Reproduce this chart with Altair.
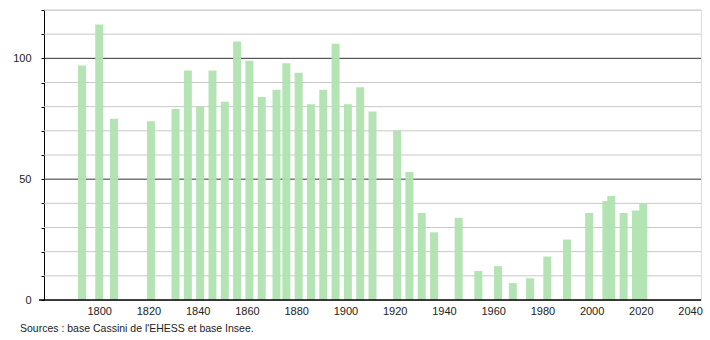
import altair as alt
import pandas as pd

years = [1793, 1800, 1806, 1821, 1831, 1836, 1841, 1846, 1851, 1856, 1861, 1866,
         1872, 1876, 1881, 1886, 1891, 1896, 1901, 1906, 1911, 1921, 1926, 1931,
         1936, 1946, 1954, 1962, 1968, 1975, 1982, 1990, 1999, 2006, 2008, 2013,
         2018, 2021]
population = [97, 114, 75, 74, 79, 95, 80, 95, 82, 107, 99, 84,
              87, 98, 94, 81, 87, 106, 81, 88, 78, 70, 53, 36,
              28, 34, 12, 14, 7, 9, 18, 25, 36, 41, 43, 36,
              37, 40]
x_labels = [1800, 1820, 1840, 1860, 1880, 1900, 1920, 1940, 1960, 1980, 2000, 2020, 2040]
y_ticks = [0, 10, 20, 30, 40, 50, 60, 70, 80, 90, 100, 110, 120]
light_grid = [10, 20, 30, 40, 60, 70, 80, 90, 110, 120]
dark_grid = [50, 100]
source_text = "Sources : base Cassini de l'EHESS et base Insee."

df = pd.DataFrame({"year": years, "pop": population})
FONT = "Liberation Sans"

xscale = alt.Scale(domain=[1779.6, 2042.4], nice=False, zero=False)
yscale = alt.Scale(domain=[0, 120], nice=False)

yaxis = alt.Axis(values=y_ticks, grid=False, tickSize=3, tickColor="#000",
                 domainColor="#000", labelFont=FONT, labelFontSize=11,
                 labelColor="#222", labelPadding=10, title=None,
                 labelExpr="datum.value % 50 === 0 ? datum.label : ''")

light = alt.Chart(pd.DataFrame({"v": light_grid})).mark_rule(
    color="#c8c8c8", strokeWidth=1
).encode(y=alt.Y("v:Q", scale=yscale, axis=yaxis, title=None))

dark = alt.Chart(pd.DataFrame({"v": dark_grid})).mark_rule(
    color="#333333", strokeWidth=1
).encode(y=alt.Y("v:Q", scale=yscale, axis=yaxis, title=None))

bars = alt.Chart(df).mark_bar(size=8, color="#b0e3b0", opacity=0.95).encode(
    x=alt.X("year:Q", scale=xscale, title=None,
            axis=alt.Axis(values=x_labels, ticks=False, domain=False, grid=False,
                          labelFont=FONT, labelFontSize=11, labelColor="#222",
                          labelPadding=5, format="d")),
    y=alt.Y("pop:Q", scale=yscale, axis=yaxis, title=None),
)

baseline = alt.Chart(pd.DataFrame({"v": [0]})).mark_rule(
    color="#000", strokeWidth=1.5
).encode(y=alt.Y("v:Q", scale=yscale, axis=yaxis, title=None),
         x=alt.value(-5), x2=alt.value(657))

source = alt.Chart(pd.DataFrame({"t": [source_text]})).mark_text(
    align="left", baseline="middle", font=FONT, fontSize=10.5, color="#222"
).encode(text="t:N", x=alt.value(-24), y=alt.value(319))

chart = alt.layer(light, dark, bars, baseline, source).properties(
    width=657, height=290,
    autosize=alt.AutoSizeParams(type="none"),
    padding={"left": 44, "top": 10, "right": 9, "bottom": 40},
).configure_view(stroke=None).configure(background="white")

chart.save("out.html", embed_options={"renderer": "svg", "actions": False})
